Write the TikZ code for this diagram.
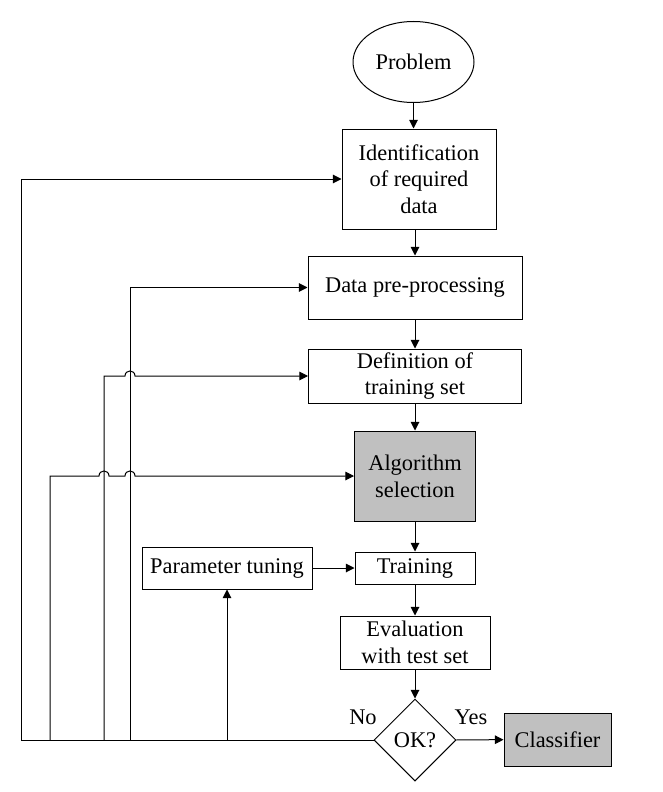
\documentclass[tikz,border=0pt]{standalone}
\usepackage{fontspec}
\setmainfont{Liberation Serif}
\usetikzlibrary{arrows.meta,shapes.geometric}

\begin{document}
\begin{tikzpicture}[x=0.75pt,y=0.75pt,yscale=-1,xscale=1,
  every node/.style={font=\fontsize{16.8}{20}\selectfont},
  box/.style={draw, line width=0.75, inner sep=0.75pt, align=center},
  greybox/.style={box, fill={rgb, 255:red, 192; green, 192; blue, 192}},
  arr/.style={line width=0.75, -{Triangle[length=6.5pt,width=6.5pt]}}]
\useasboundingbox (0,0) rectangle (663,792);

% Text Node
\node [ellipse, draw, line width=0.75, minimum width=90.75pt, minimum height=60.75pt, inner sep=0pt] (prob) at (413.5,62) {Problem};
% Text Node
\node [box, minimum width=115.5pt, minimum height=75pt] (ident) at (419,179) {Identification\\of required\\data};
% Text Node
\node [box, minimum width=160.5pt, minimum height=47.25pt] (dpre) at (415,287.5) {Data pre-processing};
% Text Node
\node [box, minimum width=159.75pt, minimum height=40.5pt] (defn) at (415,376) {Definition of\\training set};
% Text Node
\node [greybox, minimum width=90.75pt, minimum height=67.5pt] (algo) at (415,476) {Algorithm\\selection};
% Text Node
\node [box, minimum width=90pt, minimum height=24pt] (train) at (415,568) {Training};
% Text Node
\node [box, minimum width=127.5pt, minimum height=31.5pt] (ptune) at (227,568) {Parameter tuning};
% Text Node
\node [box, minimum width=112.5pt, minimum height=39.75pt] (evalu) at (415,642.5) {Evaluation\\with test set};
% Text Node
\node [diamond, draw, line width=0.75, minimum width=61.5pt, minimum height=61.5pt, inner sep=0pt] (ok) at (415,740) {OK?};
% Text Node
\node [greybox, minimum width=80.25pt, minimum height=39.75pt] (clf) at (557.5,739.5) {Classifier};
% Text Node
\node (no) at (363,717) {No};
% Text Node
\node (yes) at (471,717) {Yes};

\coordinate (back1) at (21,740);
\coordinate (back2) at (50,740);
\coordinate (back3) at (104,740);
\coordinate (back4) at (130,740);
\coordinate (back5) at (227,740);

%Straight Lines
\draw [arr] (prob) -- (prob |- ident.north);
\draw [arr] (ident.south -| dpre) -- (dpre);
\draw [arr] (dpre) -- (defn);
\draw [arr] (defn) -- (algo);
\draw [arr] (algo) -- (train);
\draw [arr] (train) -- (evalu);
\draw [arr] (evalu) -- (ok);
\draw [arr] (ok) -- (clf);
\draw [arr] (ptune) -- (train);

%Feedback Lines
\draw [arr] (ok.west) -- (back1) |- (ident.west);
\draw [arr] (back4) |- (dpre.west);
\draw [arr] (back3) -- (back3 |- defn.west) -- (125,376) .. controls (125,369.3) and (135,369.3) .. (135,376) -- (defn.west);
\draw [arr] (back2) -- (back2 |- algo.west) -- (99,476) .. controls (99,469.3) and (109,469.3) .. (109,476) -- (125,476) .. controls (125,469.3) and (135,469.3) .. (135,476) -- (algo.west);
\draw [arr] (back5) -- (ptune);

\end{tikzpicture}
\end{document}
